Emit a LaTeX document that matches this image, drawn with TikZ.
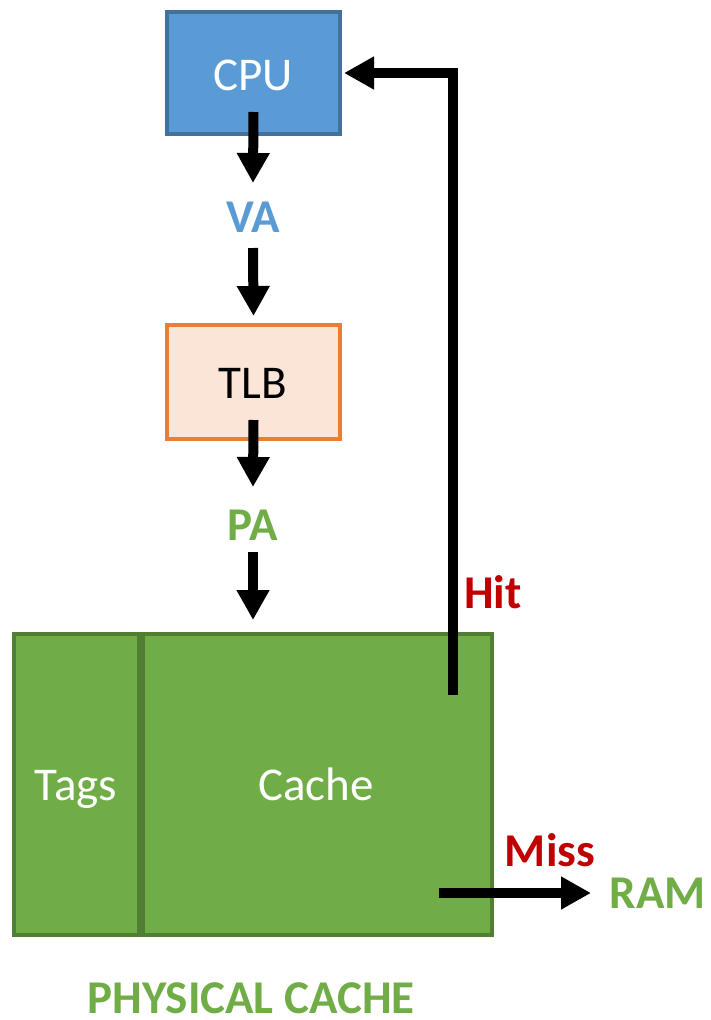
\documentclass[tikz,border=0pt]{standalone}
\usepackage{fontspec}
\setmainfont{Carlito}
\usetikzlibrary{arrows.meta,calc}
\definecolor{cpufill}{HTML}{5B9BD5}
\definecolor{cpuline}{HTML}{41719C}
\definecolor{tlbfill}{HTML}{FBE5D6}
\definecolor{tlbline}{HTML}{ED7D31}
\definecolor{cachefill}{HTML}{70AD47}
\definecolor{cacheline}{HTML}{507E32}
\definecolor{hitred}{HTML}{C00000}
\begin{document}
\begin{tikzpicture}[x=1pt,y=1pt,
  txt/.style={font=\fontsize{47}{56}\selectfont, inner sep=0pt, anchor=base},
  box/.style={draw, line width=4pt, inner sep=0pt},
  lbl/.style={font=\fontsize{47}{56}\selectfont\bfseries, inner sep=0pt, anchor=base},
  arr/.style={line width=10pt, -{Triangle[width=31pt,length=30pt]}}]
\useasboundingbox (0,0) rectangle (710,-1020);
% boxes
\node[box, fill=cpufill, draw=cpuline, minimum width=173pt, minimum height=122pt] (cpu) at (253.5,-73) {};
\node[box, fill=tlbfill, draw=tlbline, minimum width=173pt, minimum height=114pt] (tlb) at (253.5,-382) {};
\node[box, fill=cachefill, draw=cacheline, minimum width=125pt, minimum height=301pt] (tags) at (76.5,-784.5) {};
\node[box, fill=cachefill, draw=cacheline, minimum width=349pt, minimum height=301pt] (cache) at (317.5,-784.5) {};
% texts
\node[txt, text=white] (cputxt) at (253,-90) {CPU};
\node[txt, text=black] (tlbtxt) at (253,-398) {TLB};
\node[txt, text=white] (tagstxt) at (76,-800) {Tags};
\node[txt, text=white] (cachetxt) at (316,-800) {Cache};
% labels
\node[lbl, text=cpufill] (va) at (253,-232) {VA};
\node[lbl, text=cachefill] (pa) at (253,-540) {PA};
\node[lbl, text=hitred] (hit) at (493,-608) {Hit};
\node[lbl, text=hitred] (miss) at (550,-866) {Miss};
\node[lbl, text=cachefill] (ram) at (658,-908) {RAM};
\node[lbl, text=cachefill, text depth=0pt] (phys) at (251,-1013) {PHYSICAL CACHE};
% connectors
\coordinate (hitstart) at (453,-695);
\coordinate (missstart) at (439,-893);
\draw[arr] ([yshift=24pt]cpu.south) -- ($(va.base)+(0,49)$);
\draw[arr] ($(va.base)+(0,-16)$) -- ([yshift=7pt]tlb.north);
\draw[arr] ([yshift=21pt]tlb.south) -- ($(pa.base)+(0,53)$);
\draw[arr] ($(pa.base)+(0,-12)$) -- ($(pa |- cache.north)+(0,12)$);
\draw[arr] (hitstart) |- ([xshift=2pt]cpu.east);
\draw[arr] (missstart) -- ($(ram.base)+(-67,15)$);
\end{tikzpicture}
\end{document}
